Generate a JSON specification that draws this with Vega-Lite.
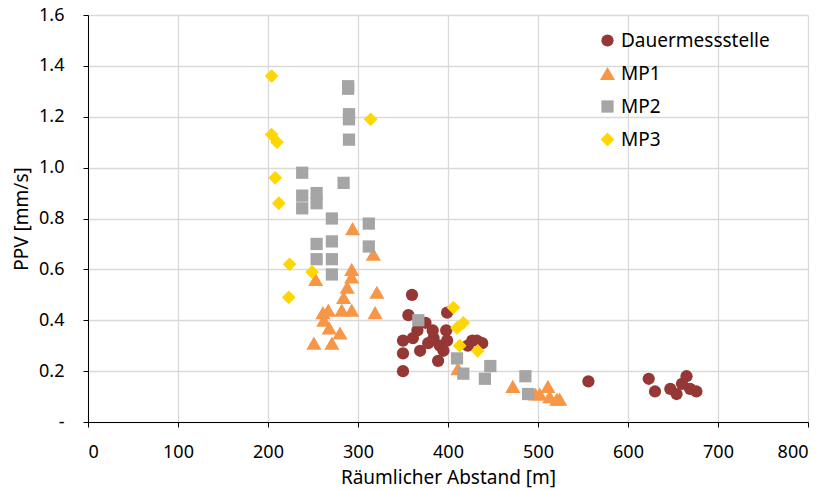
{
  "$schema": "https://vega.github.io/schema/vega-lite/v6.json",
  "width": 720,
  "height": 407,
  "autosize": {"type": "none"},
  "padding": {"left": 88, "top": 15, "right": 24, "bottom": 68},
  "background": "white",
  "config": {
    "font": "Noto Sans",
    "view": {"stroke": null}
  },
  "datasets": {
    "pts": [
      {"s": "Dauermessstelle", "x": 360, "y": 0.50},
      {"s": "Dauermessstelle", "x": 356, "y": 0.42},
      {"s": "Dauermessstelle", "x": 375, "y": 0.39},
      {"s": "Dauermessstelle", "x": 383, "y": 0.36},
      {"s": "Dauermessstelle", "x": 398, "y": 0.36},
      {"s": "Dauermessstelle", "x": 399, "y": 0.43},
      {"s": "Dauermessstelle", "x": 350, "y": 0.32},
      {"s": "Dauermessstelle", "x": 361, "y": 0.33},
      {"s": "Dauermessstelle", "x": 369, "y": 0.28},
      {"s": "Dauermessstelle", "x": 378, "y": 0.31},
      {"s": "Dauermessstelle", "x": 350, "y": 0.27},
      {"s": "Dauermessstelle", "x": 350, "y": 0.20},
      {"s": "Dauermessstelle", "x": 389, "y": 0.24},
      {"s": "Dauermessstelle", "x": 391, "y": 0.30},
      {"s": "Dauermessstelle", "x": 395, "y": 0.28},
      {"s": "Dauermessstelle", "x": 399, "y": 0.32},
      {"s": "Dauermessstelle", "x": 427, "y": 0.32},
      {"s": "Dauermessstelle", "x": 438, "y": 0.31},
      {"s": "Dauermessstelle", "x": 422, "y": 0.30},
      {"s": "Dauermessstelle", "x": 432, "y": 0.32},
      {"s": "Dauermessstelle", "x": 384, "y": 0.33},
      {"s": "Dauermessstelle", "x": 366, "y": 0.36},
      {"s": "Dauermessstelle", "x": 556, "y": 0.16},
      {"s": "Dauermessstelle", "x": 623, "y": 0.17},
      {"s": "Dauermessstelle", "x": 630, "y": 0.12},
      {"s": "Dauermessstelle", "x": 647, "y": 0.13},
      {"s": "Dauermessstelle", "x": 654, "y": 0.11},
      {"s": "Dauermessstelle", "x": 660, "y": 0.15},
      {"s": "Dauermessstelle", "x": 665, "y": 0.18},
      {"s": "Dauermessstelle", "x": 669, "y": 0.13},
      {"s": "Dauermessstelle", "x": 676, "y": 0.12},
      {"s": "MP1", "x": 294, "y": 0.76},
      {"s": "MP1", "x": 253, "y": 0.56},
      {"s": "MP1", "x": 293, "y": 0.60},
      {"s": "MP1", "x": 293, "y": 0.57},
      {"s": "MP1", "x": 288, "y": 0.53},
      {"s": "MP1", "x": 284, "y": 0.49},
      {"s": "MP1", "x": 282, "y": 0.44},
      {"s": "MP1", "x": 293, "y": 0.44},
      {"s": "MP1", "x": 261, "y": 0.43},
      {"s": "MP1", "x": 267, "y": 0.44},
      {"s": "MP1", "x": 262, "y": 0.40},
      {"s": "MP1", "x": 268, "y": 0.37},
      {"s": "MP1", "x": 280, "y": 0.35},
      {"s": "MP1", "x": 271, "y": 0.31},
      {"s": "MP1", "x": 251, "y": 0.31},
      {"s": "MP1", "x": 317, "y": 0.66},
      {"s": "MP1", "x": 321, "y": 0.51},
      {"s": "MP1", "x": 319, "y": 0.43},
      {"s": "MP1", "x": 411, "y": 0.21},
      {"s": "MP1", "x": 472, "y": 0.14},
      {"s": "MP1", "x": 497, "y": 0.11},
      {"s": "MP1", "x": 502, "y": 0.11},
      {"s": "MP1", "x": 511, "y": 0.14},
      {"s": "MP1", "x": 513, "y": 0.10},
      {"s": "MP1", "x": 521, "y": 0.09},
      {"s": "MP1", "x": 524, "y": 0.09},
      {"s": "MP2", "x": 289, "y": 1.31},
      {"s": "MP2", "x": 289, "y": 1.32},
      {"s": "MP2", "x": 290, "y": 1.21},
      {"s": "MP2", "x": 290, "y": 1.19},
      {"s": "MP2", "x": 290, "y": 1.11},
      {"s": "MP2", "x": 238, "y": 0.98},
      {"s": "MP2", "x": 284, "y": 0.94},
      {"s": "MP2", "x": 238, "y": 0.89},
      {"s": "MP2", "x": 238, "y": 0.84},
      {"s": "MP2", "x": 254, "y": 0.90},
      {"s": "MP2", "x": 254, "y": 0.86},
      {"s": "MP2", "x": 271, "y": 0.80},
      {"s": "MP2", "x": 254, "y": 0.70},
      {"s": "MP2", "x": 271, "y": 0.71},
      {"s": "MP2", "x": 254, "y": 0.64},
      {"s": "MP2", "x": 271, "y": 0.64},
      {"s": "MP2", "x": 271, "y": 0.58},
      {"s": "MP2", "x": 312, "y": 0.78},
      {"s": "MP2", "x": 312, "y": 0.69},
      {"s": "MP2", "x": 367, "y": 0.40},
      {"s": "MP2", "x": 410, "y": 0.25},
      {"s": "MP2", "x": 417, "y": 0.19},
      {"s": "MP2", "x": 447, "y": 0.22},
      {"s": "MP2", "x": 441, "y": 0.17},
      {"s": "MP2", "x": 486, "y": 0.18},
      {"s": "MP2", "x": 489, "y": 0.11},
      {"s": "MP3", "x": 204, "y": 1.36},
      {"s": "MP3", "x": 204, "y": 1.13},
      {"s": "MP3", "x": 210, "y": 1.10},
      {"s": "MP3", "x": 208, "y": 0.96},
      {"s": "MP3", "x": 212, "y": 0.86},
      {"s": "MP3", "x": 224, "y": 0.62},
      {"s": "MP3", "x": 223, "y": 0.49},
      {"s": "MP3", "x": 249, "y": 0.59},
      {"s": "MP3", "x": 314, "y": 1.19},
      {"s": "MP3", "x": 406, "y": 0.45},
      {"s": "MP3", "x": 410, "y": 0.37},
      {"s": "MP3", "x": 417, "y": 0.39},
      {"s": "MP3", "x": 413, "y": 0.30},
      {"s": "MP3", "x": 433, "y": 0.28}
    ]
  },
  "data": {"name": "pts"},
  "mark": {"type": "point", "filled": true, "opacity": 1},
  "encoding": {
    "x": {
      "field": "x", "type": "quantitative",
      "scale": {"domain": [0, 800], "nice": false, "zero": true},
      "axis": {
        "values": [0, 100, 200, 300, 400, 500, 600, 700, 800],
        "title": "Räumlicher Abstand [m]",
        "titleFontSize": 19, "titleFontWeight": "normal", "titleColor": "#000", "titlePadding": 7,
        "labelFontSize": 18, "labelColor": "#000", "labelPadding": 16,
        "domainColor": "#000", "tickColor": "#000", "tickSize": 5,
        "grid": true, "gridColor": "#d9d9d9", "gridWidth": 1.3
      }
    },
    "y": {
      "field": "y", "type": "quantitative",
      "scale": {"domain": [0, 1.6], "nice": false},
      "axis": {
        "values": [0, 0.2, 0.4, 0.6, 0.8, 1.0, 1.2, 1.4, 1.6],
        "labelExpr": "datum.value == 0 ? '-' : format(datum.value, '.1f')",
        "title": "PPV [mm/s]",
        "titleFontSize": 19, "titleFontWeight": "normal", "titleColor": "#000", "titlePadding": 7,
        "labelFontSize": 18, "labelColor": "#000", "labelPadding": 19,
        "domainColor": "#000", "tickColor": "#000", "tickSize": 5,
        "grid": true, "gridColor": "#d9d9d9", "gridWidth": 1.3
      }
    },
    "color": {
      "field": "s", "type": "nominal",
      "scale": {"domain": ["Dauermessstelle", "MP1", "MP2", "MP3"], "range": ["#953735", "#F79646", "#A5A5A5", "#FFD700"]},
      "legend": {
        "title": null, "orient": "none", "legendX": 510, "legendY": 16,
        "labelFontSize": 19, "labelColor": "#000", "symbolSize": 150, "rowPadding": 13, "symbolOffset": 0
      }
    },
    "shape": {
      "field": "s", "type": "nominal",
      "scale": {"domain": ["Dauermessstelle", "MP1", "MP2", "MP3"], "range": ["circle", "triangle-up", "square", "diamond"]},
      "legend": null
    },
    "size": {
      "field": "s", "type": "nominal",
      "scale": {"type": "ordinal", "domain": ["Dauermessstelle", "MP1", "MP2", "MP3"], "range": [150, 230, 150, 190]},
      "legend": null
    }
  }
}
